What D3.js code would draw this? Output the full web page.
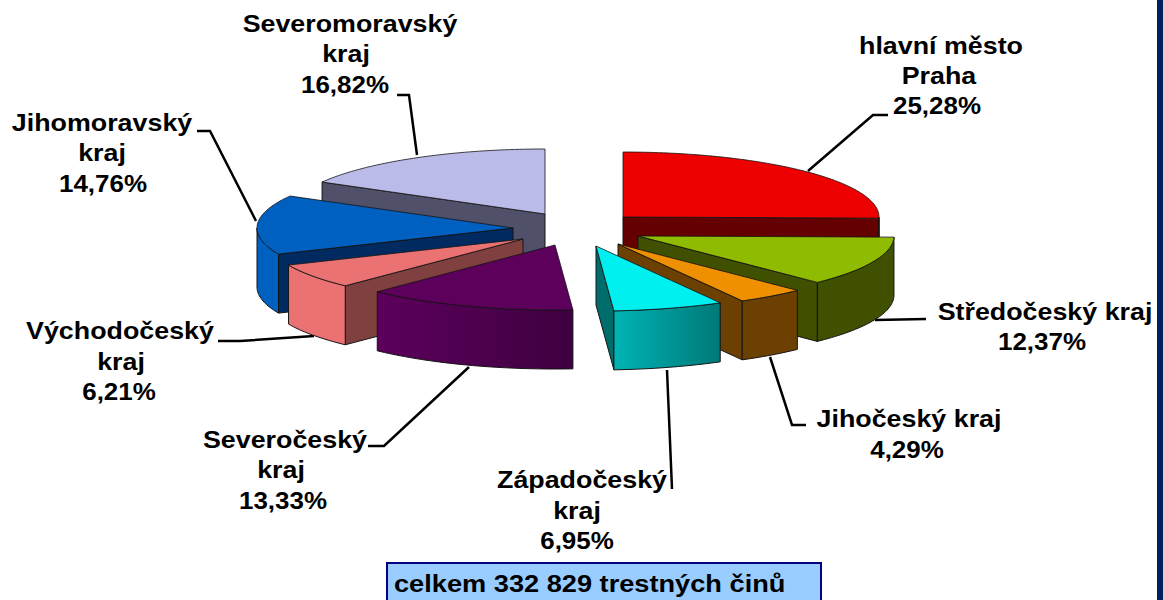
<!DOCTYPE html>
<html><head><meta charset="utf-8">
<script src="https://d3js.org/d3.v7.min.js"></script>
<style>html,body{margin:0;padding:0;background:#fff;overflow:hidden}svg{display:block}text{font-family:"Liberation Sans",Arial,sans-serif;font-weight:700;fill:#000}</style>
</head><body><svg id="c" width="1163" height="600"></svg>
<script>
// ---- data
const regions = ["hlavní město Praha","Středočeský kraj","Jihočeský kraj","Západočeský kraj","Severočeský kraj","Východočeský kraj","Jihomoravský kraj","Severomoravský kraj"];
const shares = [25.28,12.37,4.29,6.95,13.33,6.21,14.76,16.82];
const shareLabels = ["25,28%","12,37%","4,29%","6,95%","13,33%","6,21%","14,76%","16,82%"];
const totalNote = "celkem 332 829 trestných činů";
// ---- styles / layout
const topColors  = ["#ee0000","#8fbb00","#ee9000","#00f0f0","#5c005c","#ea7272","#0060c0","#bbbbea"];
const wallColors = ["#640000","#3f5000","#6b4000","#006c6c","#5c005c","#804040","#002a60","#50506a"];
const outerFrom  = ["#640000","#3f5000","#6b4000","#00b4b4","#5c005c","#ea7272","#0060c0","#50506a"];
const outerTo    = ["#640000","#3f5000","#6b4000","#007878","#3e0040","#ea7272","#0060c0","#50506a"];
const apexX = [623,638,618,596,555,523,513,545];
const apexY = [217,236,244,246,245,239,228,214];
const drawOrder = [7,0,6,1,5,2,4,3];
const Rx = 256, Ry = 65, depth = 59;
const labelLines = [["hlavní město","Praha"],["Středočeský kraj"],["Jihočeský kraj"],["Západočeský","kraj"],["Severočeský","kraj"],["Východočeský","kraj"],["Jihomoravský","kraj"],["Severomoravský","kraj"]];
const labelX = [941,1045,909,582,285,120,102,350];
const labelBase = [[54,84,114],[320,350],[427,458],[488,519,549],[448,478,509],[339,370,400],[131,161,192],[32,62,93]];
const lineShift = [[0,-2,-4],[0,-3],[0,-2],[0,-5,-5],[0,-4,-2],[0,1,-1],[0,0,1],[0,-4,-5]];
const labelSize = 24.5, labelStretch = 1.095, shareStretch = 1.06;
const leaders = [
 [[808,171],[873,115],[888,115]],
 [[875,320],[926,319]],
 [[770,357],[792,425],[806,425]],
 [[667,370],[672,489]],
 [[469,367],[384,446],[368,446]],
 [[314,336],[240,341],[218,341]],
 [[256,221],[210,131],[197,131]],
 [[417,155],[409,95],[397,95]]
];
const svg = d3.select("#c");
const defs = svg.append("defs");
const pie = d3.pie().sort(null).startAngle(0).endAngle(2*Math.PI);
const arcs = pie(shares);
const sx = d3.scaleLinear().domain([-1,1]).range([-Rx,Rx]);
const sy = d3.scaleLinear().domain([-1,1]).range([-Ry,Ry]);
const px = a => sx(Math.sin(a)), py = a => sy(-Math.cos(a));
const line = d3.line();
const span = (a,b) => { const n=Math.max(2,Math.ceil(Math.abs(b-a)/0.02)); return d3.range(n+1).map(i=>a+(b-a)*i/n); };

// leader lines
svg.append("g").selectAll("path").data(leaders).join("path")
  .attr("d",d=>line(d)).attr("fill","none").attr("stroke","#000").attr("stroke-width",2.5);

const g = svg.append("g");
drawOrder.forEach(i=>{
  const A = arcs[i], s = g.append("g").attr("transform",`translate(${apexX[i]},${apexY[i]})`);
  const edge = "#141414";
  defs.append("linearGradient").attr("id","o"+i).attr("gradientUnits","objectBoundingBox")
    .call(l=>{l.append("stop").attr("offset",0).attr("stop-color",outerFrom[i]);l.append("stop").attr("offset",1).attr("stop-color",outerTo[i]);});
  // radial wall facing the viewer
  const wallAngle = A.endAngle < Math.PI ? A.endAngle : (A.startAngle > Math.PI ? A.startAngle : null);
  if(wallAngle!==null){
    const q=[px(wallAngle),py(wallAngle)];
    s.append("path").attr("d",line([[0,0],q,[q[0],q[1]+depth],[0,depth]])+"Z")
      .attr("fill",wallColors[i]).attr("stroke",edge).attr("stroke-width",1);
  }
  // outer wall
  const a0=Math.max(A.startAngle,Math.PI/2), a1=Math.min(A.endAngle,1.5*Math.PI);
  if(a1>a0){
    const ang=span(a0,a1);
    const pts=ang.map(a=>[px(a),py(a)]).concat(ang.slice().reverse().map(a=>[px(a),py(a)+depth]));
    s.append("path").attr("d",line(pts)+"Z").attr("fill",`url(#o${i})`).attr("stroke",edge).attr("stroke-width",1);
  }
  // top face
  const top=[[0,0]].concat(span(A.startAngle,A.endAngle).map(a=>[px(a),py(a)]));
  s.append("path").attr("d",line(top)+"Z").attr("fill",topColors[i]).attr("stroke",edge).attr("stroke-width",.8);
});

// labels
regions.forEach((r,i)=>{
  const rows = labelLines[i].concat(shareLabels[i]);
  rows.forEach((txt,k)=>{
    const stretch = k===rows.length-1 ? shareStretch : labelStretch;
    svg.append("text").attr("text-anchor","middle").attr("font-size",labelSize).attr("data-region",r)
      .attr("transform",`translate(${labelX[i]+lineShift[i][k]},${labelBase[i][k]}) scale(${stretch},1)`).text(txt);
  });
});
// total box
svg.append("rect").attr("x",387).attr("y",563).attr("width",434).attr("height",41).attr("fill","#99ccff").attr("stroke","#000080").attr("stroke-width",2);
svg.append("text").attr("font-size",labelSize).attr("transform","translate(394,592) scale(1.11,1)").text(totalNote);
// page edge stripe
svg.append("rect").attr("x",1157).attr("y",0).attr("width",6).attr("height",600).attr("fill","#00205f");
</script></body></html>
